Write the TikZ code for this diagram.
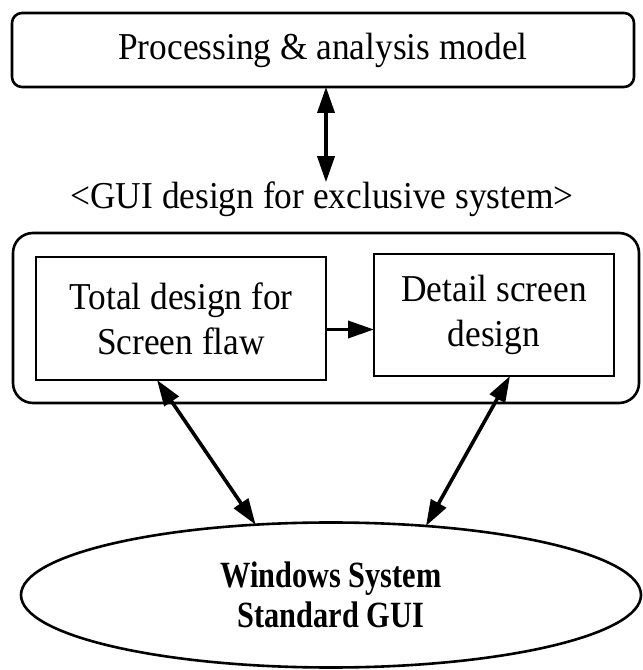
\documentclass[tikz,border=0pt]{standalone}
\usepackage{fontspec}
\setmainfont{Liberation Serif}[FakeStretch=0.93]
\newfontfamily\guifont{Liberation Serif}[FakeStretch=0.82]
\usetikzlibrary{arrows.meta,shapes.geometric,calc}
\begin{document}
\begin{tikzpicture}[x=1pt,y=1pt,
  every node/.style={inner sep=0pt, outer sep=0pt},
  frame/.style={draw, line width=2.6pt},
  label text/.style={font=\fontsize{38}{45}\selectfont},
  both ways/.style={line width=3.6pt, {Triangle[length=26pt,width=17pt]}-{Triangle[length=26pt,width=17pt]}},
  one way/.style={line width=3.6pt, -{Triangle[length=26pt,width=17pt]}}]
  \useasboundingbox (0,0) rectangle (643,670);

  % processing model at the top
  \node[frame, rounded corners=10pt, minimum width=622pt, minimum height=74pt,
        label text] (model) at (323,620) {Processing \& analysis model};

  % caption of the GUI block
  \node[label text, anchor=base] (caption) at (322,461) {<GUI design for exclusive system>};

  % GUI design block with its two steps
  \node[frame, rounded corners=20pt, minimum width=626pt, minimum height=170pt] (block) at (326,352) {};
  \node[frame, minimum width=290pt, minimum height=123pt, align=center, label text]
        (flow) at (181,351.5) {Total design for\\Screen flaw};
  \node[frame, minimum width=240pt, minimum height=122pt, align=center, label text]
        (detail) at (494,355) {Detail screen\\design};

  % standard GUI of the windowing system
  \node[frame, ellipse, minimum width=620pt, minimum height=145pt, align=center,
        font=\guifont\bfseries\fontsize{37}{40}\selectfont] (gui) at (331,75)
        {Windows System\\Standard GUI};

  % connectors
  \draw[both ways] ([xshift=3pt]model.south) -- ([xshift=3pt]model.south |- caption.north);
  \draw[one way] ([yshift=-11pt]flow.east) -- ([yshift=-11pt]flow.east -| detail.west);
  \draw[both ways] ([xshift=-24pt]flow.south) -- (gui.137);
  \draw[both ways] ([xshift=16pt]detail.south) -- (gui.36);
\end{tikzpicture}
\end{document}
